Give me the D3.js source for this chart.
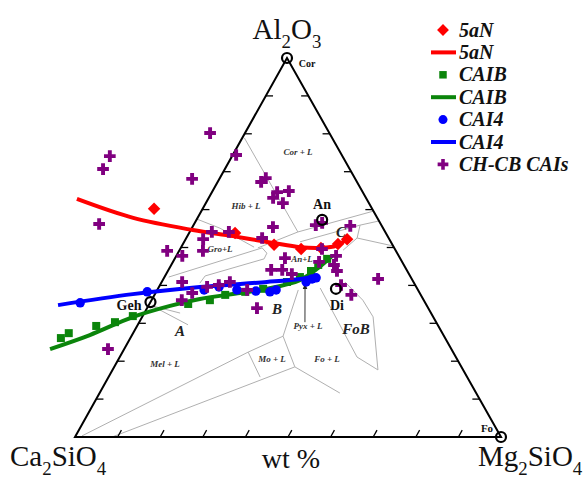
<!DOCTYPE html>
<html>
<head>
<meta charset="utf-8">
<script src="https://cdn.jsdelivr.net/npm/d3@7"></script>
<style>
  body { margin: 0; background: #fff; }
  text { font-family: "Liberation Serif", "Times New Roman", serif; }
</style>
</head>
<body>
<svg id="chart" width="586" height="484"></svg>
<script>
// compositions as [Al2O3 wt%, Mg2SiO4 wt%], Ca2SiO4 is the rest
const aN5Points = [[60.2,-11.4],[53.8,10.8],[50.7,21.5],[49.6,28.4],[49.9,32.9],[50.9,36.4],[52.2,37.9]];
const aN5Line = [[62.8,-30.8],[57.8,-15.1],[54.6,0.5],[53.0,10.7],[51.2,21.0],[50.1,27.9],[49.9,32.7],[50.4,36.2],[52.5,38.0]];

const caibPoints = [[26.1,-16.3],[27.4,-15.1],[29.3,-9.6],[30.3,-5.7],[31.9,-2.3],[35.1,9.1],[36.1,13.7],[37.5,16.6],
  [38.3,20.9],[39.1,24.7],[40.9,29.4],[42.2,31.8],[43.8,33.6],[45.4,34.5],[47.0,35.8]];
const caibLine = [[23.2,-17.4],[26.9,-9.9],[31.7,-2.1],[34.6,5.1],[36.4,11.2],[38.0,19.8],[39.1,25.6],[41.4,32.2],[44.6,34.9],[47.8,36.6]];

const cai4Points = [[35.4,-16.4],[38.3,-2.1],[38.8,11.0],[39.6,14.1],[38.8,18.7],[38.5,23.3],[38.3,26.7],[38.8,27.9],
  [40.9,33.9],[41.7,34.9],[42.0,35.7]];
const cai4Line = [[34.8,-21.3],[37.7,-5.2],[39.6,9.6],[40.9,24.7],[41.7,32.1],[42.5,35.9]];

const chcbPoints = [[80.2,-8.2],[74.1,-28.7],[70.7,-28.6],[74.4,0.8],[68.1,-6.4],[67.3,10.2],[68.3,10.8],[63.1,15.1],
  [64.6,15.3],[64.9,17.9],[61.7,18.1],[56.2,-22.3],[54.1,5.2],[54.1,9.2],[55.4,18.9],[52.5,17.8],[52.2,4.1],
  [49.1,-2.8],[47.8,1.4],[49.1,5.6],[55.9,28.7],[56.5,29.9],[55.7,36.9],[49.6,33.3],[47.8,37.5],[47.2,25.8],
  [46.2,34.3],[45.4,38.2],[44.1,24.1],[44.1,26.7],[43.0,29.5],[43.8,39.7],[41.7,50.4],[40.9,4.8],[39.6,11.3],
  [40.1,13.8],[40.9,16.0],[38.8,21.1],[38.0,8.6],[36.1,7.1],[34.0,25.8],[40.1,42.5],[37.5,46.2],[23.2,-3.8]];

const minerals = ['Cor', 'An', 'Di', 'Geh', 'Fo'];
const mineralComp = [[100,0],[57.3,29.5],[39.1,41.8],[35.6,0],[0,100]];

// liquidus field boundaries (same [Al2O3, Mg2SiO4] form)
const phaseBoundaries = [
  [[78.9,0.5],[54.1,25.4]],
  [[57.5,0],[55.1,6.6],[50.1,17.1]],
  [[49.9,18.1],[54.1,25.4],[59.6,40.4]],
  [[51.5,27.2],[55.9,39.1],[57.0,43.0]],
  [[55.9,39.1],[52.5,40.1],[50.4,49.6]],
  [[52.5,40.1],[49.3,38.4]],
  [[42.2,1.0],[49.9,19.1],[48.5,20.9],[47.0,21.0],[42.5,9.4],[40.6,9.1]],
  [[32.7,8.4],[34.6,0.9],[29.6,11.8]],
  [[38.8,33.1],[26.6,35.6]],
  [[0.3,1.5],[22.4,29.5],[26.6,35.6]],
  [[0,8.7],[18.5,42.4]],
  [[22.4,29.5],[15.8,35.6]],
  [[26.6,35.6],[18.5,42.4],[11.6,56.4]],
  [[39.3,38.0],[21.1,55.7],[17.7,62.3]],
  [[40.9,43.0],[36.1,49.6],[31.7,54.2],[17.7,62.3]]
];
const pyxArrow = [[30.3,38.9],[40.4,33.9]];

const axisTicks = [10, 20, 30, 40, 50, 60, 70, 80, 90];

const legendLabels = ['5aN', '5aN', 'CAIB', 'CAIB', 'CAI4', 'CAI4', 'CH-CB CAIs'];

const svg = d3.select('#chart');

// triangle corners: Ca2SiO4 (left), Mg2SiO4 (right), Al2O3 (top)
const L = { x: 75, y: 437 }, R = { x: 501, y: 437 }, T = { x: 287, y: 58 };
const yScale = d3.scaleLinear().domain([0, 100]).range([L.y, T.y]);
const shear = d3.scaleLinear().domain([0, 100]).range([0, T.x - L.x]);
const mScale = d3.scaleLinear().domain([0, 100]).range([0, R.x - L.x]);
const px = d => L.x + shear(d[0]) + mScale(d[1]);
const py = d => yScale(d[0]);

const lineGen = d3.line().x(px).y(py);
const smooth = d3.line().x(px).y(py).curve(d3.curveCatmullRom.alpha(0.5));

const colors = { red: '#ff0000', green: '#0b850b', blue: '#0000ff', purple: '#800080' };

// phase boundaries
svg.append('g')
  .selectAll('path')
  .data(phaseBoundaries)
  .join('path')
  .attr('d', lineGen)
  .attr('fill', 'none')
  .attr('stroke', '#b0b0b0')
  .attr('stroke-width', 1);

// arrow for Pyx + L
svg.append('defs').append('marker')
  .attr('id', 'arrow')
  .attr('viewBox', '0 0 10 10')
  .attr('refX', 9).attr('refY', 5)
  .attr('markerWidth', 6).attr('markerHeight', 6)
  .attr('orient', 'auto')
  .append('path').attr('d', 'M0,1 L10,5 L0,9 Z').attr('fill', '#222');
svg.append('path')
  .attr('d', lineGen(pyxArrow))
  .attr('stroke', '#333')
  .attr('stroke-width', 1)
  .attr('marker-end', 'url(#arrow)');

// triangle frame
svg.append('path')
  .attr('d', lineGen([[0,0],[0,100],[100,0],[0,0]]) + 'Z')
  .attr('fill', 'none')
  .attr('stroke', '#000')
  .attr('stroke-width', 2);

// ticks
const ticks = svg.append('g').attr('stroke', '#000').attr('stroke-width', 1.3);
axisTicks.forEach(t => {
  ticks.append('path').attr('d', lineGen([[0, t], [1.8, t]]));          // bottom
  ticks.append('path').attr('d', lineGen([[t, 0], [t, 1.7]]));          // left
  ticks.append('path').attr('d', lineGen([[t, 100 - t], [t, 98.3 - t]])); // right
});

// region labels
const regionLabels = [
  ['Cor + L', 298, 155, 9], ['Hib + L', 246, 209, 9], ['Gro+L', 220, 252, 9], ['An+L', 302, 262, 9],
  ['Pyx + L', 308, 329, 9], ['Mo + L', 272, 362, 9], ['Fo + L', 327, 362, 9], ['Mel + L', 165, 367, 9]
];
svg.append('g').selectAll('text')
  .data(regionLabels)
  .join('text')
  .attr('x', d => d[1]).attr('y', d => d[2])
  .attr('text-anchor', 'middle')
  .attr('font-size', d => d[3])
  .attr('font-style', 'italic')
  .attr('font-weight', 'bold')
  .attr('fill', '#333')
  .text(d => d[0]);

const typeLabels = [['A', 180, 336], ['B', 277, 314], ['C', 341, 237], ['FoB', 356, 334]];
svg.append('g').selectAll('text')
  .data(typeLabels)
  .join('text')
  .attr('x', d => d[1]).attr('y', d => d[2])
  .attr('text-anchor', 'middle')
  .attr('font-size', 15)
  .attr('font-style', 'italic')
  .attr('font-weight', 'bold')
  .attr('fill', '#222')
  .text(d => d[0]);

// series lines and points
const drawSeries = (pts, line, color, symbol, size, rot) => {
  svg.append('path')
    .datum(line)
    .attr('d', smooth)
    .attr('fill', 'none')
    .attr('stroke', color)
    .attr('stroke-width', 4);
  svg.append('g').selectAll('path')
    .data(pts)
    .join('path')
    .attr('d', d3.symbol(symbol, size))
    .attr('transform', d => `translate(${px(d)},${py(d)}) rotate(${rot})`)
    .attr('fill', color);
};

drawSeries(aN5Points, aN5Line, colors.red, d3.symbolSquare, 78, 45);
drawSeries(caibPoints, caibLine, colors.green, d3.symbolSquare, 64, 0);
drawSeries(cai4Points, cai4Line, colors.blue, d3.symbolCircle, 70, 0);

svg.append('g').selectAll('path')
  .data(chcbPoints)
  .join('path')
  .attr('d', d3.symbol(d3.symbolCross, 76))
  .attr('transform', d => `translate(${px(d)},${py(d)})`)
  .attr('fill', colors.purple);

// mineral compositions
svg.append('g').selectAll('circle')
  .data(mineralComp)
  .join('circle')
  .attr('cx', px).attr('cy', py)
  .attr('r', 5)
  .attr('fill', 'none')
  .attr('stroke', '#000')
  .attr('stroke-width', 2.2);

const mineralLabelPos = [[307, 67, 10], [322, 209, 14], [337, 310, 14], [129, 310, 14], [487, 432, 11]];
svg.append('g').selectAll('text')
  .data(minerals)
  .join('text')
  .attr('x', (d, i) => mineralLabelPos[i][0])
  .attr('y', (d, i) => mineralLabelPos[i][1])
  .attr('text-anchor', 'middle')
  .attr('font-size', (d, i) => mineralLabelPos[i][2])
  .attr('font-weight', 'bold')
  .attr('fill', '#111')
  .text(d => d);

// corner labels with subscripts
const cornerLabel = (x, y, size, parts, anchor) => {
  const t = svg.append('text').attr('x', x).attr('y', y).attr('font-size', size)
    .attr('text-anchor', anchor).attr('fill', '#111');
  parts.forEach(([s, sub], i) => {
    t.append('tspan')
      .attr('font-size', sub ? size * 0.65 : size)
      .attr('dy', sub ? 9 : (i > 0 ? -9 : 0))
      .text(s);
  });
};
cornerLabel(287, 39, 29, [['Al'], ['2', 1], ['O'], ['3', 1]], 'middle');
cornerLabel(10, 466, 29, [['Ca'], ['2', 1], ['SiO'], ['4', 1]], 'start');
cornerLabel(478, 466, 29, [['Mg'], ['2', 1], ['SiO'], ['4', 1]], 'start');

svg.append('text')
  .attr('x', 291).attr('y', 468)
  .attr('text-anchor', 'middle')
  .attr('font-size', 28)
  .attr('fill', '#111')
  .text('wt %');

// legend
const legend = svg.append('g');
const legendColors = [colors.red, colors.red, colors.green, colors.green, colors.blue, colors.blue, colors.purple];
const legendSymbols = [d3.symbolSquare, null, d3.symbolSquare, null, d3.symbolCircle, null, d3.symbolCross];
const legendSizes = [70, 0, 56, 0, 64, 0, 64];
legendLabels.forEach((lab, i) => {
  const y = 30 + i * 22.4;
  if (legendSymbols[i]) {
    legend.append('path')
      .attr('d', d3.symbol(legendSymbols[i], legendSizes[i]))
      .attr('transform', `translate(443,${y}) rotate(${i === 0 ? 45 : 0})`)
      .attr('fill', legendColors[i]);
  } else {
    legend.append('line')
      .attr('x1', 431).attr('x2', 456)
      .attr('y1', y).attr('y2', y)
      .attr('stroke', legendColors[i])
      .attr('stroke-width', 4);
  }
  legend.append('text')
    .attr('x', 459).attr('y', y + 6.5)
    .attr('font-size', 20)
    .attr('font-style', 'italic')
    .attr('font-weight', 'bold')
    .attr('fill', '#111')
    .text(lab);
});
</script>
</body>
</html>
